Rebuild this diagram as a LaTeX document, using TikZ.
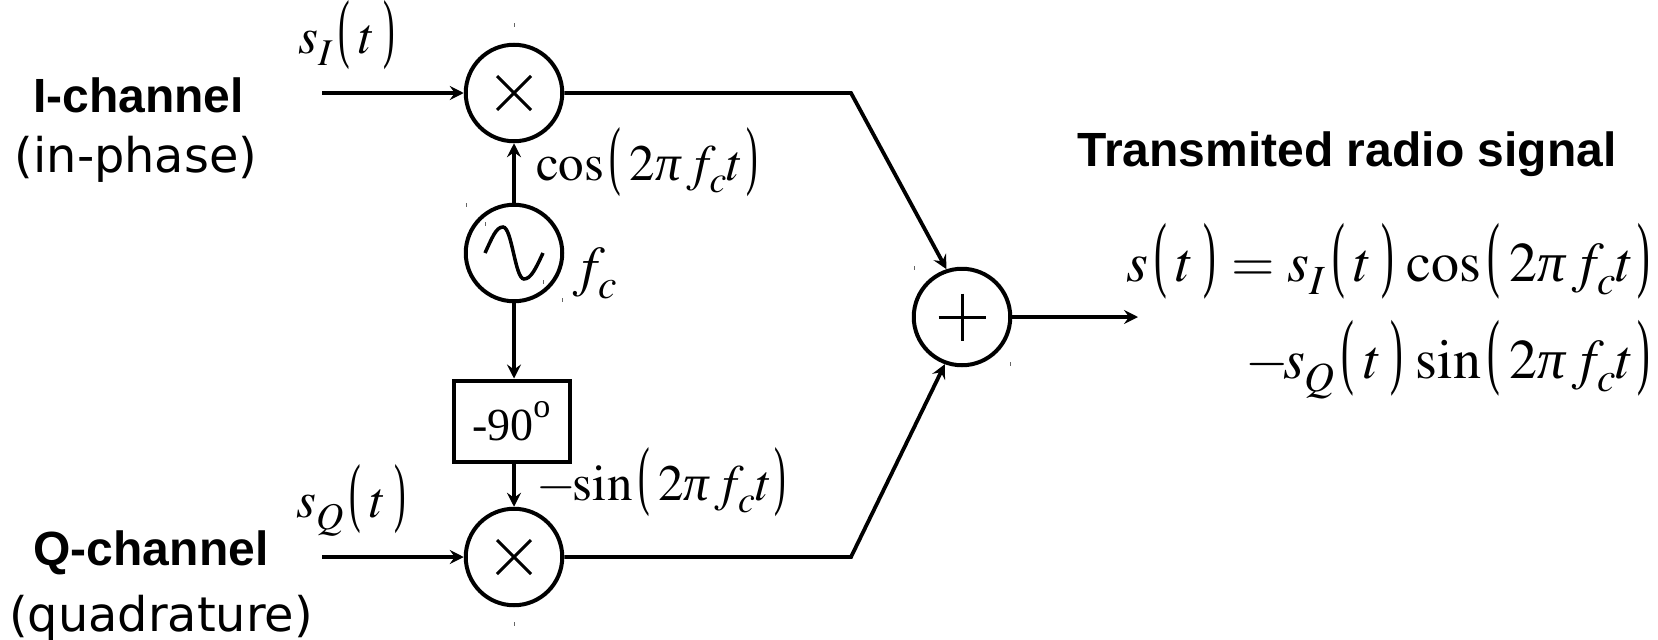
\documentclass[tikz,border=0pt]{standalone}
\usepackage{amsmath}
\usepackage{graphicx}
\usepackage{mathptmx}
\usepackage[no-math]{fontspec}
\setmainfont{Liberation Serif}
\newfontfamily\headfont{Liberation Sans}
\newfontfamily\subfont{DejaVu Sans}
\usetikzlibrary{
  arrows.meta,
  calc
}
\newcommand{\lpar}{\mathopen{\scalebox{0.68}[1.5]{(}}}
\newcommand{\rpar}{\mathclose{\scalebox{0.68}[1.5]{)}}}
\newcommand{\pa}[1]{\mskip2mu\lpar\mskip3mu#1\mskip3mu\rpar}
\newcommand{\pb}[1]{\mskip2mu\lpar\mskip3mu#1\mskip1mu\rpar}
\newcommand{\lowsub}[1]{_{\raisebox{-5pt}{$\scriptstyle #1$}}}
\newcommand{\fc}{f\lowsub{c}}
\newcommand{\ipi}{\text{\itshape π}}
\tikzset{
  opnode/.style={
    draw, circle, line width=4pt, minimum size=96.5pt, inner sep=0pt
  },
  mixer/.style={opnode, path picture={
    \draw[line width=3pt] ($(path picture bounding box.center)+(-17,-17)$) -- ++(34,34);
    \draw[line width=3pt] ($(path picture bounding box.center)+(-17,17)$) -- ++(34,-34);
  }},
  adder/.style={opnode, path picture={
    \draw[line width=3pt] ($(path picture bounding box.center)+(-23.5,0)$) -- ++(47,0);
    \draw[line width=3pt] ($(path picture bounding box.center)+(0,-23.5)$) -- ++(0,47);
  }},
  oscnode/.style={opnode, path picture={
    \draw[line width=3.5pt] ($(path picture bounding box.center)+(-29,0)$)
      .. controls +(7,-15) and +(-7,0) .. ++(18,-26)
      .. controls +(9,0) and +(-9,0) .. ++(21,52)
      .. controls +(7,0) and +(-7,15) .. ++(19,-26);
  }},
  shiftbox/.style={draw, line width=4pt, minimum width=116pt, minimum height=81pt, inner sep=0pt},
  sigline/.style={line width=3.8pt},
  sigarrow/.style={sigline, -{Stealth[length=14pt, width=14pt, inset=5pt]}},
  eqn/.style={anchor=base west, inner sep=0pt, font=\fontsize{51}{56}\selectfont},
  shifttext/.style={inner sep=0pt, font=\fontsize{46}{50}\selectfont},
  eqnbig/.style={inner sep=0pt, font=\fontsize{56}{60}\selectfont},
  head/.style={inner sep=0pt, font=\fontsize{48}{54}\selectfont\headfont\bfseries},
  sublabel/.style={inner sep=0pt, font=\fontsize{47.8}{54}\selectfont\subfont},
  speck/.style={line width=1pt, black!60}
}

\begin{document}
\begin{tikzpicture}[x=1pt, y=-1pt]
  \useasboundingbox (0,0) rectangle (1658,640);
  \node[mixer] (mixi) at (514,93) {};
  \node[oscnode] (osc) at (514,253) {};
  \node[shiftbox] (shift) at (511.5,421) {};
  \node[mixer] (mixq) at (514,557) {};
  \node[adder] (sum) at (962,317) {};

  \node[shifttext] (shiftlab) at (shift.center) {-90\raisebox{6pt}{\textsuperscript{o}}};

  \coordinate (ini) at (322,93);
  \coordinate (inq) at (322,557);
  \coordinate (corneri) at (851,93);
  \coordinate (cornerq) at (851,557);
  \coordinate (outp) at (1138,317);

  \draw[sigarrow] (ini) -- (mixi);
  \draw[sigarrow] (inq) -- (mixq);
  \draw[sigarrow] (osc) -- (mixi);
  \draw[sigarrow] (osc.south) -- (shift.north -| osc);
  \draw[sigarrow] (shift.south -| mixq) -- (mixq);
  \draw[sigarrow] (mixi) -- (corneri) -- (sum.108);
  \draw[sigarrow] (mixq) -- (cornerq) -- (sum.250);
  \draw[sigarrow] (sum) -- (outp);

  \node[eqn] (si) at (298,53) {$s\lowsub{I}\pa{t}$};
  \node[eqn] (sq) at (296,517) {$s\lowsub{Q}\pa{t}$};
  \node[eqn] (coslab) at (536,180) {$\cos\pb{2\ipi\,\fc t}$};
  \node[eqn] (sinlab) at (536,500) {$-\mskip-3mu\sin\pb{2\ipi\,\fc t}$};
  \node[eqnbig, anchor=base west] (fclab) at (573,285) {$\fc$};

  \node[head] (ichan) at (138.5,95) {I-channel};
  \node[sublabel] (iphase) at (136,159) {(in-phase)};
  \node[head] (qchan) at (151,553) {Q-channel};
  \node[sublabel] (qphase) at (161,618) {(quadrature)};
  \node[head] (txlab) at (1347,154) {Transmited radio signal};

  \node[eqnbig, anchor=base east] (eqone) at (1650,281) {$s\pa{t}\mskip1mu=s\lowsub{I}\pa{t}\mskip2mu\cos\pb{2\ipi\,\fc t}$};
  \node[eqnbig, anchor=base east] (eqtwo) at (1650,378) {$-\mskip-2mu s\lowsub{Q}\pa{t}\mskip2mu\sin\pb{2\ipi\,\fc t}$};

  \foreach \px/\py in {514.7/25, 466.7/205, 485.7/224, 543/282, 562.7/300, 514.5/624, 914.7/268, 1010.5/364}
    \draw[speck] (\px,\py-2) -- (\px,\py+2);
\end{tikzpicture}
\end{document}
